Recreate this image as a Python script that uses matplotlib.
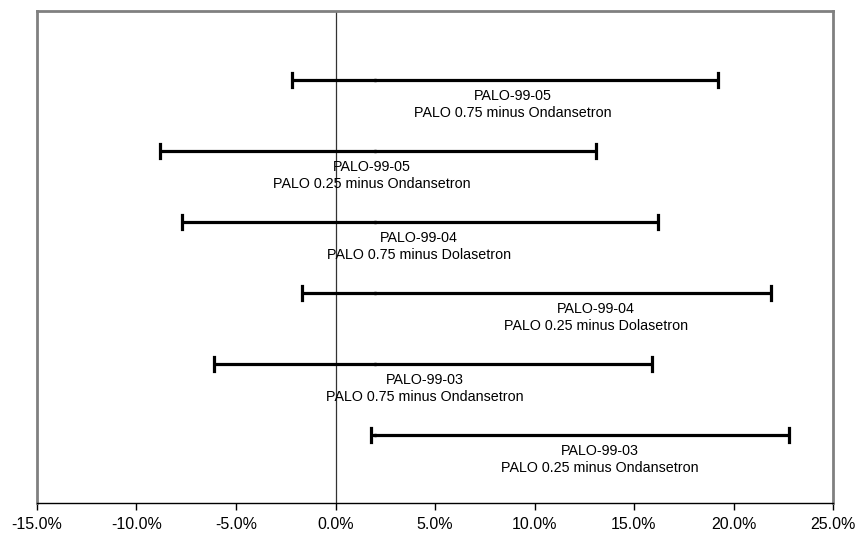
import matplotlib
matplotlib.use("Agg")
import matplotlib.pyplot as plt
from matplotlib.ticker import FuncFormatter

plt.rcParams['font.family'] = ['Liberation Sans', 'DejaVu Sans']

studies = ["PALO-99-05", "PALO-99-05", "PALO-99-04", "PALO-99-04", "PALO-99-03", "PALO-99-03"]
comparisons = ["PALO 0.75 minus Ondansetron", "PALO 0.25 minus Ondansetron",
               "PALO 0.75 minus Dolasetron", "PALO 0.25 minus Dolasetron",
               "PALO 0.75 minus Ondansetron", "PALO 0.25 minus Ondansetron"]
lower = [-2.2, -8.8, -7.7, -1.7, -6.1, 1.8]
upper = [19.2, 13.1, 16.2, 21.9, 15.9, 22.8]
point = [2.0, 2.0, 2.0, 2.0, 2.0, 2.0]
label_x = [8.9, 1.8, 4.2, 13.1, 4.5, 13.3]
rows = [6, 5, 4, 3, 2, 1]
xticks = [-15, -10, -5, 0, 5, 10, 15, 20, 25]

fig = plt.figure(figsize=(8.58, 5.35), dpi=100)
ax = fig.add_axes([37/858, 32/535, 796/858, 492/535])

ax.axvline(0, color='#333333', lw=0.9, zorder=1)

for lo, hi, p, y, lx, st, cp in zip(lower, upper, point, rows, label_x, studies, comparisons):
    ax.plot([lo, hi], [y, y], color='black', lw=2.3, solid_capstyle='butt', zorder=3)
    ax.plot([lo, lo], [y - 0.1, y + 0.1], color='black', lw=2.3, zorder=3)
    ax.plot([hi, hi], [y - 0.1, y + 0.1], color='black', lw=2.3, zorder=3)
    ax.plot([p], [y], marker='s', ms=2, color='black', zorder=4)
    ax.annotate(st, xy=(lx, y), xytext=(0, -11.8), textcoords='offset points',
                ha='center', va='center', fontsize=10.3, color='black')
    ax.annotate(cp, xy=(lx, y), xytext=(0, -24.2), textcoords='offset points',
                ha='center', va='center', fontsize=10.3, color='black')

ax.set_xlim(-15, 25)
ax.set_ylim(0.04, 6.97)
ax.set_xticks(xticks)
ax.xaxis.set_major_formatter(FuncFormatter(lambda v, pos: f"{v:.1f}%"))
ax.set_yticks([])
ax.tick_params(axis='x', direction='out', length=5, width=1, labelsize=11.5, pad=5)

for s in ['top', 'left', 'right']:
    ax.spines[s].set_color('#808080')
    ax.spines[s].set_linewidth(2)
ax.spines['bottom'].set_color('black')
ax.spines['bottom'].set_linewidth(1)

fig.savefig("out.png", dpi=100)
